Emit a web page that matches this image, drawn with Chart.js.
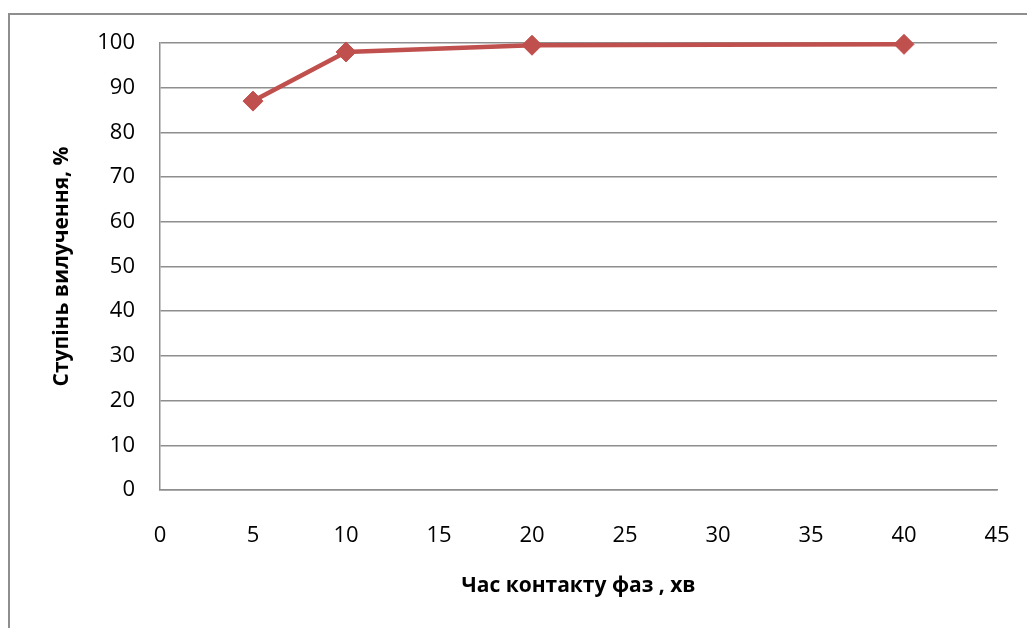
<!DOCTYPE html>
<html>
<head>
<meta charset="utf-8">
<script src="https://cdn.jsdelivr.net/npm/chart.js@4/dist/chart.umd.min.js"></script>
<style>
  html, body { margin: 0; padding: 0; background: #fff; overflow: hidden; }
  #wrap { position: relative; width: 1027px; height: 628px; }
  #frame { position: absolute; left: 8px; top: 13px; width: 1100px; height: 700px;
           border: 2px solid #8e8e8e; box-sizing: border-box; }
  #c { position: absolute; left: 0; top: 0; }
</style>
</head>
<body>
<div id="wrap">
  <div id="frame"></div>
  <canvas id="c" width="1027" height="628"></canvas>
</div>
<script>
// Contact time of phases, min
const contactTime = [5, 10, 20, 40];
// Extraction degree, %
const extraction = [87.0, 98.0, 99.5, 99.7];
// Axis ranges and labels
const xTicks = [0, 5, 10, 15, 20, 25, 30, 35, 40, 45];
const yTicks = [0, 10, 20, 30, 40, 50, 60, 70, 80, 90, 100];
const xTitle = 'Час контакту фаз , хв';
const yTitle = 'Ступінь вилучення, %';

const FONT = "'Open Sans', 'Noto Sans', 'DejaVu Sans', sans-serif";
const GRID = '#8e8e8e';
const RED = '#C0504D';

const points = contactTime.map((x, i) => ({ x, y: extraction[i] }));

new Chart(document.getElementById('c'), {
  type: 'line',
  data: {
    datasets: [{
      data: points,
      borderColor: RED,
      backgroundColor: RED,
      borderWidth: 4.5,
      pointStyle: 'rectRot',
      pointRadius: 10,
      pointBorderWidth: 1,
      pointBackgroundColor: RED,
      pointBorderColor: RED,
      tension: 0,
      fill: false,
      clip: false
    }]
  },
  options: {
    responsive: false,
    animation: false,
    events: [],
    layout: { padding: { left: 0, top: 43, right: 30, bottom: 0 } },
    plugins: { legend: { display: false }, tooltip: { enabled: false } },
    scales: {
      x: {
        type: 'linear',
        min: xTicks[0],
        max: xTicks[xTicks.length - 1],
        afterBuildTicks: s => { s.ticks = xTicks.map(v => ({ value: v })); },
        afterFit: s => { s.height = 138; s.paddingLeft = 0; s.paddingRight = 0; },
        grid: { display: false, drawTicks: false },
        border: { display: true, color: GRID, width: 1.5 },
        ticks: { color: '#000', padding: 33, maxRotation: 0, autoSkip: false, font: { family: FONT, size: 22 } },
        title: {
          display: true, text: xTitle, color: '#000',
          font: { family: FONT, size: 21, weight: 'bold' },
          padding: { top: 4, bottom: 29 }
        }
      },
      y: {
        type: 'linear',
        min: yTicks[0],
        max: yTicks[yTicks.length - 1],
        afterBuildTicks: s => { s.ticks = yTicks.map(v => ({ value: v })); },
        afterFit: s => { s.width = 160; s.paddingTop = 0; s.paddingBottom = 0; },
        grid: { display: true, color: GRID, lineWidth: 1.5, drawTicks: false },
        border: { display: true, color: GRID, width: 1.5 },
        ticks: { color: '#000', padding: 25, font: { family: FONT, size: 22 } },
        title: {
          display: true, text: yTitle, color: '#000',
          font: { family: FONT, size: 21, weight: 'bold' },
          padding: { top: 49, bottom: 4 }
        }
      }
    }
  }
});
</script>
</body>
</html>
